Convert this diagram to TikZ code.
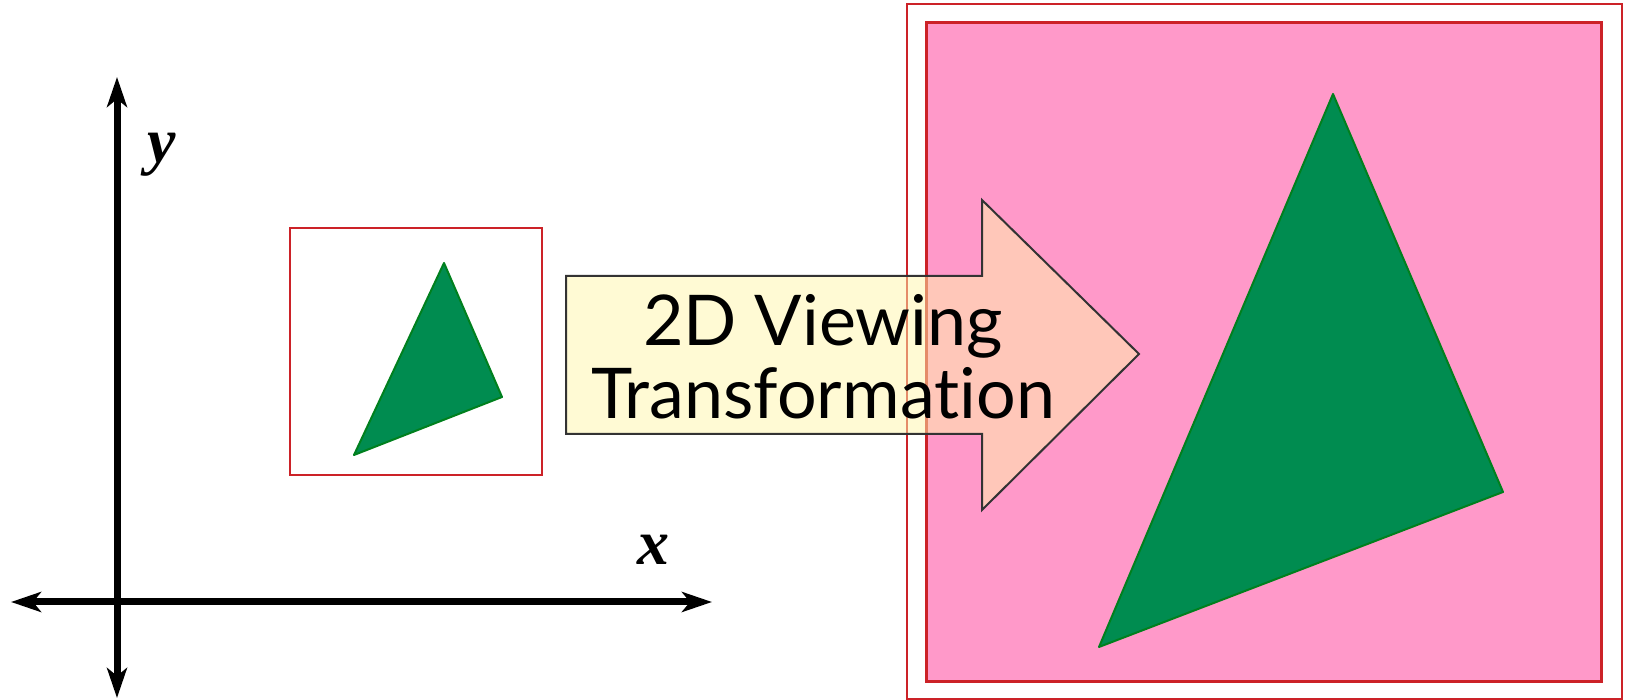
\documentclass[tikz,border=0pt]{standalone}
\usepackage{fontspec}
\newfontfamily\captfont[Ligatures=NoCommon]{Lato}
\newfontfamily\axfont{Liberation Serif}
\usetikzlibrary{arrows.meta}
\definecolor{Vc}{HTML}{FF99C9}
\definecolor{Bc}{HTML}{CC2228}
\definecolor{Tc}{HTML}{008C50}
\definecolor{Te}{HTML}{00801E}
\definecolor{Ac}{HTML}{FFF6AA}
\tikzset{
  axis/.style={line width=3.5pt, {Stealth[length=15pt, width=10pt, inset=4pt]}-{Stealth[length=15pt, width=10pt, inset=4pt]}},
  axlab/.style={font=\axfont\fontsize{32}{32}\selectfont\bfseries\itshape, inner sep=0pt},
  win/.style={draw=Bc, line width=1pt},
  port/.style={draw=Bc, line width=1.5pt, fill=Vc},
  tri/.style={draw=Te, line width=1pt, fill=Tc, line join=round},
  bigarrow/.style={draw=black!80, line width=1pt, fill=Ac, fill opacity=0.5},
  capt/.style={font=\captfont\fontsize{35}{36.5}\selectfont, align=center, inner sep=0pt},
}

\begin{document}
\begin{tikzpicture}[x=0.5pt, y=0.5pt]
  \useasboundingbox (0,0) rectangle (1627,700);
  % world coordinates
  \coordinate (O) at (117,98);
  \coordinate (xw) at (11,98);
  \coordinate (xe) at (712,98);
  \coordinate (ys) at (117,2);
  \coordinate (yn) at (117,623);
  \draw[axis] (xw) -- (xe);
  \draw[axis] (ys) -- (yn);
  \node[axlab] (ylab) at (162,545) {y};
  \node[axlab] (xlab) at (653,150) {x};
  % window
  \draw[win] (290,225) rectangle (542,472);
  \coordinate (wa) at (444,437);
  \coordinate (wb) at (502,303);
  \coordinate (wc) at (354,245);
  \draw[tri] (wa) -- (wb) -- (wc) -- cycle;
  % viewport
  \draw[win] (907,1) rectangle (1622,696);
  \draw[port] (926,18) rectangle (1601,677);
  \coordinate (va) at (1333,606);
  \coordinate (vb) at (1503,208);
  \coordinate (vc) at (1099,53);
  \draw[tri] (va) -- (vb) -- (vc) -- cycle;
  % transformation arrow
  \draw[bigarrow] (566,424) -- (982,424) -- (982,500) -- (1139,346)
    -- (982,190) -- (982,266) -- (566,266) -- cycle;
  \node[capt] (vt) at (823,343) {2D Viewing\\Transformation};
\end{tikzpicture}
\end{document}
